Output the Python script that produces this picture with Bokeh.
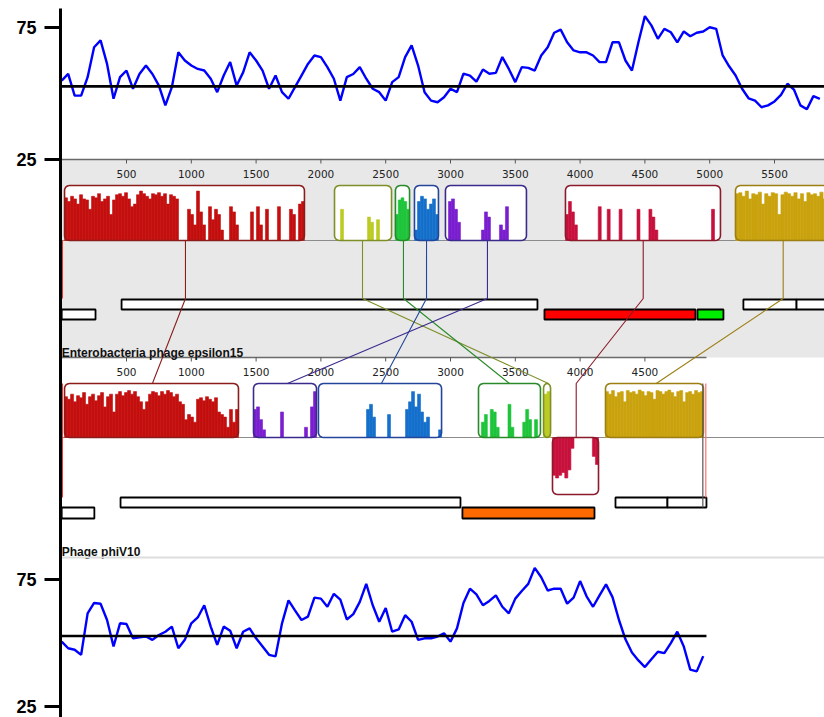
import numpy as np
from bokeh.plotting import figure
from bokeh.models import Range1d, LinearAxis, FixedTicker
from bokeh.embed import file_html
from bokeh.resources import INLINE
from bokeh.core.properties import value

# ---------------- data ----------------
GC_STEP = 50  # bp between GC windows
TOP_GC = [54.9, 57.4, 49.2, 49.2, 56.2, 67.5, 70.1, 61.2, 48.0, 56.2,
          58.7, 51.8, 57.4, 60.6, 57.4, 53.0, 45.5, 52.4, 65.6, 62.5,
          60.6, 59.3, 58.7, 55.6, 50.5, 56.8, 61.9, 53.0, 58.0, 65.6,
          62.5, 58.7, 51.8, 56.8, 50.5, 48.0, 52.4, 56.8, 61.2, 64.4,
          63.8, 60.0, 55.6, 47.3, 56.2, 57.4, 60.0, 55.6, 51.8, 50.5,
          47.3, 54.3, 56.2, 63.8, 68.2, 60.6, 50.5, 47.3, 46.7, 48.6,
          51.8, 50.5, 57.5, 56.8, 54.5, 59.1, 57.5, 57.8, 63.8, 59.3,
          54.3, 60.0, 59.7, 58.7, 64.4, 67.5, 73.0, 74.2, 69.4, 66.3,
          65.6, 65.6, 64.4, 61.9, 61.9, 69.4, 69.4, 62.5, 58.7, 69.4,
          79.3, 75.8, 70.7, 74.5, 73.2, 69.4, 73.5, 71.7, 73.0, 73.5,
          75.1, 74.5, 64.4, 60.3, 56.8, 51.8, 48.2, 47.3, 44.8, 45.5,
          47.0, 49.5, 53.7, 51.5, 45.5, 44.0, 49.0, 48.0]
BOT_GC = [50.7, 48.1, 47.5, 45.5, 61.8, 65.9, 65.6, 59.2, 48.8, 57.9,
          57.6, 52.0, 52.4, 52.7, 51.4, 53.3, 54.6, 56.6, 48.1, 51.4,
          57.9, 60.2, 65.0, 56.6, 49.4, 56.6, 55.0, 48.1, 54.6, 55.9,
          52.0, 48.8, 45.5, 44.9, 57.9, 66.9, 63.0, 59.2, 60.5, 68.0,
          67.6, 64.4, 69.5, 67.2, 59.4, 61.5, 66.3, 73.4, 65.0, 58.5,
          63.9, 54.6, 55.5, 61.1, 58.5, 51.4, 52.0, 52.0, 52.7, 54.0,
          50.7, 55.9, 65.9, 71.5, 69.3, 65.0, 66.7, 68.9, 64.4, 61.8,
          67.6, 70.6, 73.4, 79.7, 76.0, 70.8, 71.5, 71.5, 65.6, 68.0,
          74.5, 68.5, 64.4, 68.9, 73.2, 68.2, 59.2, 51.6, 46.4, 43.3,
          40.7, 43.8, 46.7, 46.2, 50.1, 54.6, 48.8, 39.7, 39.0, 45.0]
TOP_GC_MEAN = 52.7
BOT_GC_MEAN = 52.9
GC_TICKS = [75, 25]

TOP_LEN = 5950
BOT_LEN = 4975
TOP_RULER = [500, 1000, 1500, 2000, 2500, 3000, 3500, 4000, 4500, 5000, 5500]
BOT_RULER = [500, 1000, 1500, 2000, 2500, 3000, 3500, 4000, 4500]
GENOME_NAMES = ["Enterobacteria phage epsilon15", "Phage phiV10"]

# locally collinear blocks (same order in both genomes)
LCB_FILL = ["#c40f0f", "#bccb24", "#1ec43a", "#1570cc", "#7a1fd0", "#c8103c", "#c9a20e"]
LCB_EDGE = ["#8b1c1c", "#7d8f26", "#2a8a2a", "#23469a", "#3b2a8c", "#8b1a2a", "#9c7e12"]
TOP_LCB_START = [22, 2105, 2575, 2722, 2961, 3887, 5199]
TOP_LCB_END = [1873, 2545, 2684, 2907, 3586, 5083, 5950]
BOT_LCB_START = [22, 3718, 3216, 1981, 1480, 3787, 4196]
BOT_LCB_END = [1364, 3772, 3694, 2931, 1966, 4142, 4952]
BOT_LCB_INV = [False, False, False, False, False, True, False]
TOP_LINK = [955, 2321, 2637, 2815, 3285, 4487, 5567]
BOT_LINK = [700, 3756, 3455, 2467, 1742, 3970, 4587]

TOP_PROFILE = [
    [0.82, 0.75, 0.85, 0.80, 0.70, 0.88, 0.80, 0.78, 0.60, 0.85, 0.82, 0.90, 0.75, 0.80, 0.85, 0.50,
     0.78, 0.88, 0.90, 0.85, 0.92, 0.80, 0.65, 0.70, 0.88, 0.95, 0.90, 0.85, 0.80, 0.90, 0.88, 0.92,
     0.85, 0.90, 0.70, 0.88, 0.85, 0.80,
     0, 0, 0, 0.6, 0.5, 0.3, 0.95, 0.55, 0.3, 0, 0.65, 0.4, 0.6, 0.5, 0.2, 0, 0, 0.65, 0.55, 0.3,
     0, 0, 0, 0, 0.55, 0, 0.65, 0.3, 0, 0.6, 0, 0, 0, 0.65, 0, 0, 0, 0.6, 0.5, 0, 0.7, 0.75],
    [0, 0, 0.6, 0, 0, 0, 0, 0, 0, 0, 0, 0.45, 0.35, 0, 0.4, 0, 0, 0, 0],
    [0.5, 0.78, 0.82, 0.75, 0.6],
    [0.2, 0.75, 0.85, 0.8, 0.6, 0.7, 0.8, 0.5],
    [0, 0.75, 0.8, 0.6, 0.35, 0, 0, 0, 0, 0, 0, 0, 0.2, 0.55, 0.45, 0, 0, 0, 0.3, 0.2, 0.65,
     0, 0, 0, 0, 0, 0],
    [0.5, 0.75, 0.55, 0.3, 0, 0, 0, 0, 0, 0, 0, 0.65, 0, 0, 0.6, 0, 0, 0, 0.6, 0,
     0, 0, 0, 0, 0.6, 0, 0, 0, 0.6, 0.45, 0.2, 0, 0, 0, 0, 0, 0, 0, 0, 0,
     0, 0, 0, 0, 0, 0, 0, 0, 0, 0.6, 0, 0],
    [0.9, 0.92, 0.85, 0.95, 0.8, 0.9, 0.88, 0.93, 0.7, 0.9, 0.85, 0.92, 0.9, 0.5, 0.88,
     0.93, 0.9, 0.85, 0.92, 0.8, 0.9, 0.75, 0.92, 0.88, 0.9, 0.85, 0.93, 0.8, 0.9, 0.88],
]
BOT_PROFILE = [
    [0.8, 0.75, 0.85, 0.7, 0.82, 0.78, 0.88, 0.65, 0.8, 0.85, 0.72, 0.82, 0.88, 0.6, 0.8, 0.85,
     0.5, 0.85, 0.9, 0.82, 0.88, 0.92, 0.85, 0.9, 0.8, 0.7, 0.55, 0.7,
     0.85, 0.9, 0.88, 0.82, 0.9, 0.85, 0.92, 0.88, 0.8, 0.85, 0.7, 0.65, 0.35, 0.45, 0.4, 0.3,
     0.75, 0.78, 0.72, 0.8, 0.75, 0.7, 0.78, 0.5, 0.45, 0.4, 0.2, 0.55, 0.3, 0.55],
    [0.85, 0.9],
    [0, 0.3, 0.45, 0, 0.55, 0.5, 0.2, 0, 0, 0, 0.65, 0.2, 0, 0, 0, 0.3, 0.55, 0.35, 0, 0.35, 0],
    [0, 0, 0, 0, 0, 0, 0, 0, 0, 0, 0, 0, 0, 0, 0, 0, 0.55, 0.65, 0.4, 0, 0, 0, 0, 0.45,
     0, 0, 0, 0, 0, 0.55, 0.7, 0.9, 0.6, 0.85, 0.5, 0.3, 0.4, 0, 0, 0, 0.15],
    [0.55, 0.6, 0.35, 0.15, 0, 0, 0, 0, 0, 0.5, 0, 0, 0, 0, 0, 0, 0, 0.2, 0, 0.6, 0.9],
    [0.7, 0.75, 0.7, 0.65, 0.75, 0.6, 0.2, 0, 0, 0, 0, 0, 0, 0.35, 0.5],
    [0.9, 0.85, 0.92, 0.8, 0.88, 0.9, 0.7, 0.92, 0.88, 0.9, 0.85, 0.93, 0.9, 0.82, 0.9, 0.88,
     0.75, 0.92, 0.9, 0.85, 0.9, 0.93, 0.88, 0.8, 0.9, 0.92, 0.7, 0.88, 0.9, 0.85, 0.92, 0.88, 0.9],
]

# annotated features (row 0 = upper, row 1 = lower)
TOP_FEAT_START = [0, 462, 3725, 4906, 5260, 5670]
TOP_FEAT_END = [261, 3671, 4890, 5106, 5670, 5950]
TOP_FEAT_ROW = [1, 0, 1, 1, 0, 0]
TOP_FEAT_COLOR = ["white", "white", "#ff0000", "#00ee00", "white", "white"]
BOT_FEAT_START = [0, 454, 3092, 4273, 4674]
BOT_FEAT_END = [252, 3077, 4111, 4674, 4975]
BOT_FEAT_ROW = [1, 0, 1, 0, 0]
BOT_FEAT_COLOR = ["white", "white", "#ff6a00", "white", "white"]

# ---------------- layout (page pixel rows) ----------------
PX_PER_BP = 0.1296
ORIGIN_PX = 61.2
FRAME_L, FRAME_R = 60, 824
FRAME_T, FRAME_B = 8, 717
TOP_Y75, TOP_Y25 = 27.0, 159.0
BOT_Y75, BOT_Y25 = 579.3, 706.5


def gc_range(y75, y25):
    s = (y25 - y75) / 50.0
    return Range1d(start=75 - (FRAME_B - y75) / s, end=75 + (y75 - FRAME_T) / s)


def gc_to_row(v, y75, y25):
    return y75 + (75 - v) * (y25 - y75) / 50.0


p = figure(width=FRAME_R, height=FRAME_B, output_backend="svg", toolbar_location=None,
           x_range=Range1d((FRAME_L - ORIGIN_PX) / PX_PER_BP, (FRAME_R - ORIGIN_PX) / PX_PER_BP),
           y_range=Range1d(FRAME_B, FRAME_T),
           x_axis_location=None, y_axis_location=None,
           min_border_left=FRAME_L, min_border_right=0, min_border_top=FRAME_T, min_border_bottom=0)
p.outline_line_color = None
p.grid.grid_line_color = None
p.extra_y_ranges = {"gc_top": gc_range(TOP_Y75, TOP_Y25), "gc_bot": gc_range(BOT_Y75, BOT_Y25)}

tick_rows = [round(gc_to_row(v, TOP_Y75, TOP_Y25)) for v in GC_TICKS] + \
            [round(gc_to_row(v, BOT_Y75, BOT_Y25)) for v in GC_TICKS]
tick_text = [str(v) for v in GC_TICKS] * 2
ax = LinearAxis(ticker=FixedTicker(ticks=tick_rows),
                major_label_overrides={t: s for t, s in zip(tick_rows, tick_text)})
ax.axis_line_width = 3
ax.axis_line_color = "black"
ax.major_tick_line_width = 3
ax.major_tick_line_color = "black"
ax.major_tick_out = 16
ax.major_tick_in = 0
ax.minor_tick_line_color = None
ax.major_label_text_font = "Liberation Sans"
ax.major_label_text_font_style = "bold"
ax.major_label_text_font_size = "18px"
ax.major_label_text_color = "black"
ax.major_label_standoff = 8
p.add_layout(ax, "left")

BIG_L, BIG_R = -200, 7000

# ---- GC panels ----
top_x = [i * GC_STEP for i in range(len(TOP_GC))]
bot_x = [i * GC_STEP for i in range(len(BOT_GC))]
p.line(top_x, TOP_GC, y_range_name="gc_top", line_color="#0000ff", line_width=2.4)
p.line([0, TOP_LEN], [TOP_GC_MEAN, TOP_GC_MEAN], y_range_name="gc_top", line_color="black", line_width=2.6)

# ---- alignment panel ----
p.quad(left=BIG_L, right=BIG_R, top=159, bottom=357, fill_color="#e8e8e8", line_color=None)

# rulers
p.segment(x0=0, y0=159, x1=TOP_LEN, y1=159, line_color="#6a6a6a", line_width=1.5)
p.segment(x0=0, y0=357, x1=BOT_LEN, y1=357, line_color="#6a6a6a", line_width=1.5)
p.segment(x0=TOP_RULER, y0=[159] * len(TOP_RULER), x1=TOP_RULER, y1=[163] * len(TOP_RULER),
          line_color="#555555", line_width=1)
p.segment(x0=BOT_RULER, y0=[357] * len(BOT_RULER), x1=BOT_RULER, y1=[361] * len(BOT_RULER),
          line_color="#555555", line_width=1)
p.text(x=TOP_RULER, y=[173] * len(TOP_RULER), text=[str(t) for t in TOP_RULER],
       text_align="center", text_baseline="alphabetic", text_font=value("DejaVu Sans"),
       text_font_size="10.5px", text_color="#222222")
p.text(x=BOT_RULER, y=[371] * len(BOT_RULER), text=[str(t) for t in BOT_RULER],
       text_align="center", text_baseline="alphabetic", text_font=value("DejaVu Sans"),
       text_font_size="10.5px", text_color="#222222")

# centre lines
p.segment(x0=[BIG_L, BIG_L], y0=[240, 437], x1=[BIG_R, BIG_R], y1=[240, 437],
          line_color="#8c8c8c", line_width=1)

# feature boxes
ROWS_TOP = [(299, 309), (309, 319)]
ROWS_BOT = [(497, 507), (507, 518)]
p.quad(left=TOP_FEAT_START, right=TOP_FEAT_END,
       top=[ROWS_TOP[r][0] for r in TOP_FEAT_ROW], bottom=[ROWS_TOP[r][1] for r in TOP_FEAT_ROW],
       fill_color=TOP_FEAT_COLOR, line_color="black", line_width=1.8)
p.quad(left=BOT_FEAT_START, right=BOT_FEAT_END,
       top=[ROWS_BOT[r][0] for r in BOT_FEAT_ROW], bottom=[ROWS_BOT[r][1] for r in BOT_FEAT_ROW],
       fill_color=BOT_FEAT_COLOR, line_color="black", line_width=1.8)


def rbox(x0, x1, y0, y1, r=5.0):
    rx = min(r / PX_PER_BP, (x1 - x0) / 2.0)
    ry = min(r, (y1 - y0) / 2.0)
    xs, ys = [], []
    corners = [(x1 - rx, y0 + ry, 0), (x0 + rx, y0 + ry, 90), (x0 + rx, y1 - ry, 180), (x1 - rx, y1 - ry, 270)]
    for cx, cy, a0 in corners:
        for a in np.radians(np.linspace(a0, a0 + 90, 7)):
            xs.append(cx + rx * np.cos(a))
            ys.append(cy - ry * np.sin(a))
    return xs, ys


def draw_blocks(starts, ends, profiles, inverted, y_top, y_mid, y_inv_bot):
    bx, by, lefts, rights, tops, bottoms, cols = [], [], [], [], [], [], []
    for i, (s, e, prof) in enumerate(zip(starts, ends, profiles)):
        inv = inverted[i]
        y0, y1 = (y_mid, y_inv_bot) if inv else (y_top, y_mid)
        xs, ys = rbox(s, e, y0, y1)
        bx.append(xs)
        by.append(ys)
        w = (e - s) / len(prof)
        hmax = (y1 - y0) - 3
        for k, h in enumerate(prof):
            if h <= 0:
                continue
            lefts.append(s + k * w)
            rights.append(s + (k + 1) * w)
            if inv:
                tops.append(y_mid)
                bottoms.append(y_mid + h * hmax)
            else:
                tops.append(y_mid - h * hmax)
                bottoms.append(y_mid)
            cols.append(LCB_FILL[i])
    p.patches(bx, by, fill_color="white", line_color=None)
    p.quad(left=lefts, right=rights, top=tops, bottom=bottoms, fill_color=cols,
           line_color=cols, line_width=0.6)
    p.patches(bx, by, fill_color=None, line_color=LCB_EDGE, line_width=1.6)


draw_blocks(TOP_LCB_START, TOP_LCB_END, TOP_PROFILE, [False] * 7, 185, 240, 295)
draw_blocks(BOT_LCB_START, BOT_LCB_END, BOT_PROFILE, BOT_LCB_INV, 383, 437, 494)

# genome end / start markers
p.segment(x0=[3, 3], y0=[240, 383], x1=[3, 3], y1=[298, 497], line_color="#ee1111", line_width=1.5)
p.segment(x0=[BOT_LCB_END[6] - 5], y0=[383], x1=[BOT_LCB_END[6] - 5], y1=[507], line_color="#555555", line_width=1.2)
p.segment(x0=[BOT_LEN - 5], y0=[383], x1=[BOT_LEN - 5], y1=[497], line_color="#ff6f6f", line_width=1.2)

# connection lines between homologous blocks
lxs, lys = [], []
for t, b, inv in zip(TOP_LINK, BOT_LINK, BOT_LCB_INV):
    if inv:
        lxs.append([t, t, b, b])
        lys.append([240, 298, 383, 437])
    else:
        lxs.append([t, t, b])
        lys.append([240, 298, 383])
p.multi_line(lxs, lys, line_color=LCB_EDGE, line_width=1.1)

# genome labels
p.text(x=[0], y=[352], text=[GENOME_NAMES[0]], text_font=value("Liberation Sans"),
       text_font_style="bold", text_font_size="12px", text_baseline="alphabetic", text_color="#111111")
p.text(x=[0], y=[551], text=[GENOME_NAMES[1]], text_font=value("Liberation Sans"),
       text_font_style="bold", text_font_size="12px", text_baseline="alphabetic", text_color="#111111")
p.segment(x0=[0], y0=[557], x1=[BIG_R], y1=[557], line_color="#dddddd", line_width=2)

# bottom GC panel
p.line(bot_x, BOT_GC, y_range_name="gc_bot", line_color="#0000ff", line_width=2.4)
p.line([0, BOT_LEN], [BOT_GC_MEAN, BOT_GC_MEAN], y_range_name="gc_bot", line_color="black", line_width=2.6)

open("out.html", "w").write(file_html(p, INLINE))
